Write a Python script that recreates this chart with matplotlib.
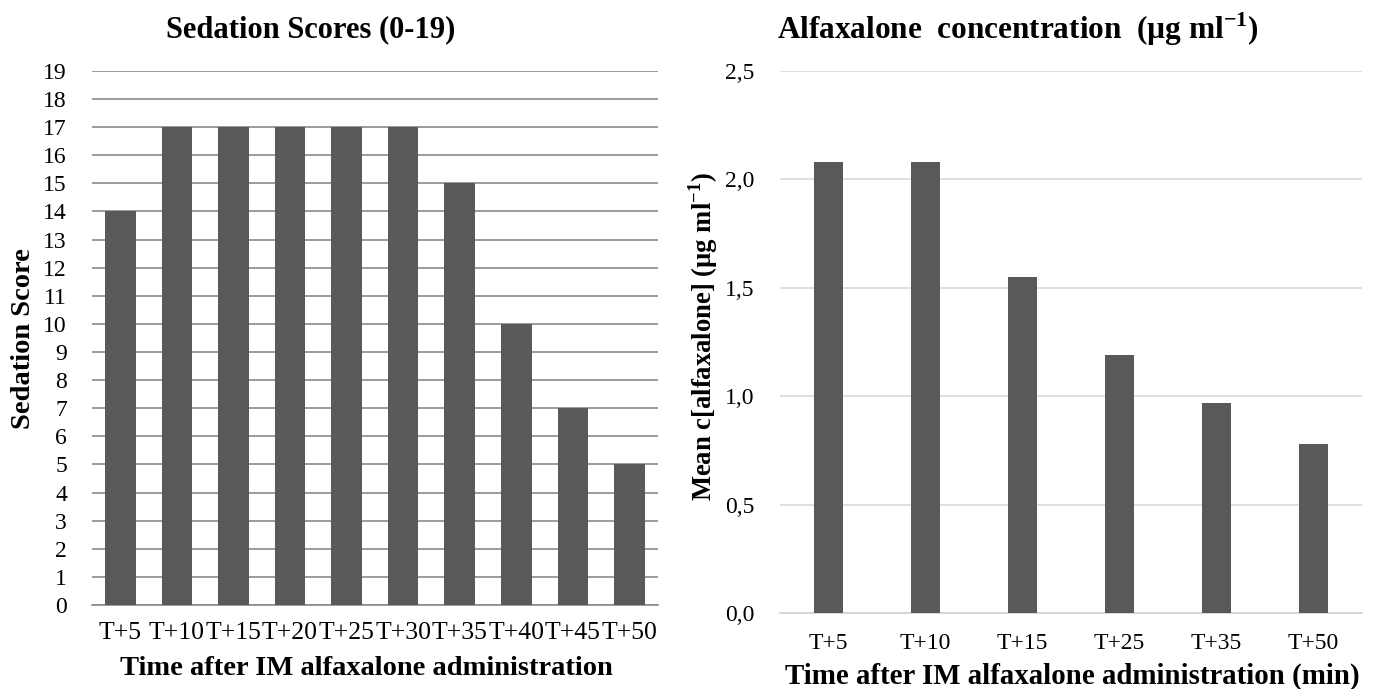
import matplotlib
matplotlib.use("Agg")
import matplotlib.pyplot as plt

# data
score_times = ["T+5", "T+10", "T+15", "T+20", "T+25", "T+30", "T+35", "T+40", "T+45", "T+50"]
sedation_scores = [14, 17, 17, 17, 17, 17, 15, 10, 7, 5]
score_ticks = list(range(0, 20))

conc_times = ["T+5", "T+10", "T+15", "T+25", "T+35", "T+50"]
alfaxalone_conc = [2.08, 2.08, 1.55, 1.19, 0.97, 0.78]
conc_ticks = [0.0, 0.5, 1.0, 1.5, 2.0, 2.5]
conc_tick_labels = ["0,0", "0,5", "1,0", "1,5", "2,0", "2,5"]

plt.rcParams['font.family'] = ['Liberation Serif', 'DejaVu Serif']
plt.rcParams['mathtext.fontset'] = 'custom'
plt.rcParams['mathtext.rm'] = 'Liberation Serif'
plt.rcParams['mathtext.bf'] = 'Liberation Serif:bold'

bar_col = "#595959"
fig = plt.figure(figsize=(13.73, 6.89), dpi=100)

# left: sedation scores
ax1 = fig.add_axes([0.067, 0.122, 0.412, 0.775])
x1 = range(len(score_times))
ax1.bar(x1, sedation_scores, width=0.54, color=bar_col, zorder=3)
ax1.set_xlim(-0.5, len(score_times) - 0.5)
ax1.set_ylim(0, 19)
ax1.set_yticks(score_ticks)
ax1.set_xticks(list(x1))
ax1.set_xticklabels(score_times)
ax1.yaxis.grid(True, color="#8a8a8a", linewidth=1.2, zorder=0)
for s in ax1.spines.values():
    s.set_visible(False)
ax1.spines['bottom'].set_visible(True)
ax1.spines['bottom'].set_color("#8a8a8a")
ax1.spines['bottom'].set_linewidth(1.2)
ax1.tick_params(length=0, labelsize=17)
ax1.tick_params(axis='y', pad=18)
ax1.tick_params(axis='x', pad=12, labelsize=18.5)

# right: alfaxalone concentration
ax2 = fig.add_axes([0.568, 0.110, 0.424, 0.787])
x2 = range(len(conc_times))
ax2.bar(x2, alfaxalone_conc, width=0.3, color=bar_col, zorder=3)
ax2.set_xlim(-0.5, len(conc_times) - 0.5)
ax2.set_ylim(0, 2.5)
ax2.set_yticks(conc_ticks)
ax2.set_yticklabels(conc_tick_labels)
ax2.set_xticks(list(x2))
ax2.set_xticklabels(conc_times)
ax2.yaxis.grid(True, color="#d9d9d9", linewidth=1.2, zorder=0)
for s in ax2.spines.values():
    s.set_visible(False)
ax2.spines['bottom'].set_visible(True)
ax2.spines['bottom'].set_color("#d0d0d0")
ax2.spines['bottom'].set_linewidth(1.2)
ax2.tick_params(length=0, labelsize=17)
ax2.tick_params(axis='y', pad=18)
ax2.tick_params(axis='x', pad=14)

# titles and axis labels
fig.text(0.226, 0.957, "Sedation Scores (0-19)", ha='center', va='center',
         fontsize=22, fontweight='bold')
fig.text(0.741, 0.957, r"Alfaxalone  concentration  (µg ml$^{\mathbf{-1}}$)",
         ha='center', va='center', fontsize=22.5, fontweight='bold')
fig.text(0.017, 0.508, "Sedation Score", rotation=90, ha='center', va='center',
         fontsize=20.5, fontweight='bold')
fig.text(0.512, 0.511, r"Mean c[alfaxalone] (µg ml$^{\mathbf{-1}}$)", rotation=90,
         ha='center', va='center', fontsize=19.2, fontweight='bold')
fig.text(0.267, 0.030, "Time after IM alfaxalone administration", ha='center',
         va='center', fontsize=20.5, fontweight='bold')
fig.text(0.781, 0.019, "Time after IM alfaxalone administration (min)", ha='center',
         va='center', fontsize=20.8, fontweight='bold')

fig.savefig("out.png", dpi=100)
